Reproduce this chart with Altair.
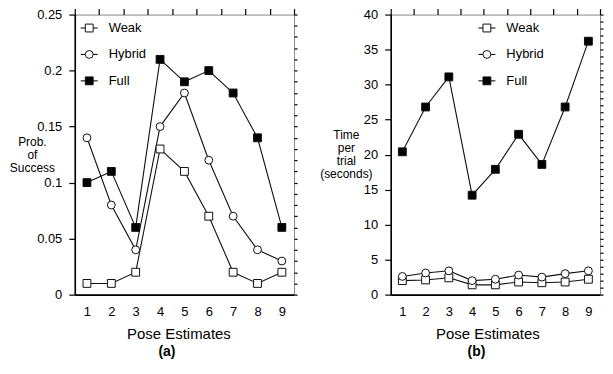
import altair as alt
import pandas as pd

# ---------------- data ----------------
pose = [1, 2, 3, 4, 5, 6, 7, 8, 9]
series = ["Weak", "Hybrid", "Full"]

prob_weak = [0.01, 0.01, 0.02, 0.13, 0.11, 0.07, 0.02, 0.01, 0.02]
prob_hybrid = [0.14, 0.08, 0.04, 0.15, 0.18, 0.12, 0.07, 0.04, 0.03]
prob_full = [0.10, 0.11, 0.06, 0.21, 0.19, 0.20, 0.18, 0.14, 0.06]

time_weak = [2.0, 2.1, 2.4, 1.4, 1.4, 1.8, 1.7, 1.8, 2.2]
time_hybrid = [2.6, 3.1, 3.4, 2.0, 2.2, 2.8, 2.5, 3.0, 3.4]
time_full = [20.4, 26.8, 31.1, 14.2, 17.9, 22.9, 18.6, 26.8, 36.2]

prob_major = [0, 0.05, 0.1, 0.15, 0.2, 0.25]
prob_minor = [round(i * 0.01, 2) for i in range(26)]
time_major = [0, 5, 10, 15, 20, 25, 30, 35, 40]
time_minor = list(range(41))
x_labels = pose
x_bounds = [p - 0.5 for p in pose] + [9.5]

shapes = ["square", "circle", "square"]
fills = ["white", "white", "black"]

INK = "#111111"
FONT = "Liberation Sans"


def long_df(vals):
    rows = []
    for s, v in zip(series, vals):
        for p, y in zip(pose, v):
            rows.append({"pose": p, "series": s, "value": y})
    return pd.DataFrame(rows)


def panel(df, ydom, major, minor, ytitle, tag, width, height,
          ytitle_x, ytitle_y, ytitle_lh, xtitle_x, tag_x, leg_x0):
    xs = alt.Scale(domain=[0.5, 9.5], nice=False, zero=False)
    ys = alt.Scale(domain=ydom, nice=False, zero=True)
    base = alt.Chart(df)

    lines = base.mark_line(color=INK, strokeWidth=1.1).encode(
        x=alt.X("pose:Q", scale=xs,
                axis=alt.Axis(values=x_labels, ticks=False, title="Pose Estimates",
                              titleX=xtitle_x, titleY=39, titleBaseline="middle",
                              titleFontSize=15, labelPadding=11,
                              domainWidth=1.6, domainColor="black")),
        y=alt.Y("value:Q", scale=ys,
                axis=alt.Axis(values=major, format="~g", tickSize=6,
                              labelPadding=7,
                              title=ytitle, titleAngle=0, titleAlign="center",
                              titleBaseline="middle", titleX=ytitle_x,
                              titleY=ytitle_y, titleFontSize=12,
                              titleLineHeight=ytitle_lh,
                              domainWidth=1.6, domainColor="black")),
        detail="series:N",
    )
    points = base.mark_point(filled=True, size=62, stroke=INK, strokeWidth=1,
                             opacity=1, fillOpacity=1).encode(
        x=alt.X("pose:Q", scale=xs,
                axis=alt.Axis(values=x_bounds, labels=False, tickSize=6,
                              domain=False, title=None)),
        y=alt.Y("value:Q", scale=ys,
                axis=alt.Axis(values=minor, labels=False, tickSize=3,
                              domain=False, title=None)),
        shape=alt.Shape("series:N", scale=alt.Scale(domain=series, range=shapes),
                        legend=None),
        fill=alt.Fill("series:N", scale=alt.Scale(domain=series, range=fills),
                      legend=None),
    )

    layers = [lines, points]
    for i, (s, sh, fl) in enumerate(zip(series, shapes, fills)):
        ly = 13.5 + i * 26.5
        ldf = pd.DataFrame({"series": [s]})
        layers.append(alt.Chart(ldf).mark_rule(color=INK, strokeWidth=1.1).encode(
            x=alt.value(leg_x0), x2=alt.value(leg_x0 + 17), y=alt.value(ly)))
        layers.append(alt.Chart(ldf).mark_point(
            filled=True, size=62, stroke=INK, strokeWidth=1, opacity=1,
            fillOpacity=1).encode(
            x=alt.value(leg_x0 + 8.5), y=alt.value(ly),
            shape=alt.value(sh), fill=alt.value(fl)))
        layers.append(alt.Chart(ldf).mark_text(
            align="left", baseline="middle", fontSize=13, font=FONT,
            color="black").encode(
            x=alt.value(leg_x0 + 28), y=alt.value(ly), text="series:N"))

    tdf = pd.DataFrame({"t": [tag]})
    layers.append(alt.Chart(tdf).mark_text(
        fontSize=14, fontWeight="bold", font=FONT, color="black",
        baseline="middle").encode(
        x=alt.value(tag_x), y=alt.value(height + 58), text="t:N"))

    return alt.layer(*layers).resolve_axis(x="independent", y="independent") \
        .properties(width=width, height=height)


H = 281
pa = panel(long_df([prob_weak, prob_hybrid, prob_full]), [0, 0.25],
           prob_major, prob_minor, ["Prob.", "of", "Success"], "(a)",
           220, H, -43, 127, 13, 104, 92.5, 6)
pb = panel(long_df([time_weak, time_hybrid, time_full]), [0, 40],
           time_major, time_minor, ["Time", "per", "trial", "(seconds)"], "(b)",
           210, H, -45, 120, 13, 97, 86, 88)

chart = alt.hconcat(pa, pb, spacing=97, bounds="flush").properties(
    padding={"left": 0, "top": -2, "right": 0, "bottom": 0},
    background="white",
).configure_view(
    stroke="#888888", strokeWidth=1
).configure_axis(
    grid=False, labelFont=FONT, labelFontSize=13, labelColor="black",
    titleFont=FONT, titleFontWeight="normal", titleColor="black",
    tickColor="black", tickWidth=1.2, domainColor="black"
)

chart.save("out.html", embed_options={"renderer": "svg", "actions": False})
